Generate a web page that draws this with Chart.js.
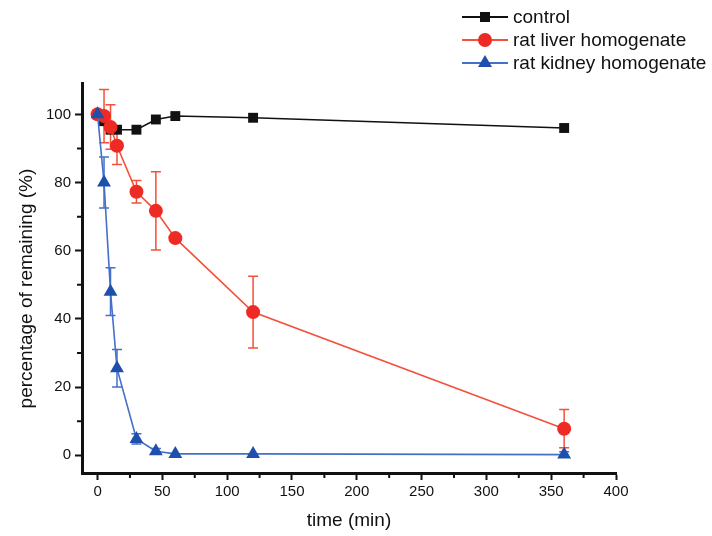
<!DOCTYPE html>
<html>
<head>
<meta charset="utf-8">
<script src="https://cdn.jsdelivr.net/npm/chart.js@4"></script>
<style>
  html, body { margin: 0; padding: 0; background: #fff; }
  #wrap { position: relative; width: 712px; height: 536px; }
  #legend { position: absolute; left: 462px; top: 5px; font-family: "Liberation Sans", Arial, sans-serif; font-size: 19px; color: #111; }
  .row { position: relative; height: 23px; line-height: 23px; padding-left: 51px; white-space: nowrap; }
  .row .ln { position: absolute; left: 0; top: 11px; width: 46px; height: 2px; }
  .row .mk { position: absolute; }
</style>
</head>
<body>
<div id="wrap">
  <canvas id="c" width="712" height="536"></canvas>
  <div id="legend">
    <div class="row"><span class="ln" style="background:#111"></span><span class="mk" style="left:18px;top:7px;width:10px;height:10px;background:#111"></span>control</div>
    <div class="row"><span class="ln" style="background:#f5503a"></span><span class="mk" style="left:16px;top:5px;width:14px;height:14px;border-radius:50%;background:#ee2a24"></span>rat liver homogenate</div>
    <div class="row"><span class="ln" style="background:#4470c8"></span><span class="mk" style="left:16px;top:4px;width:0;height:0;border-left:7px solid transparent;border-right:7px solid transparent;border-bottom:12px solid #1f4fad"></span>rat kidney homogenate</div>
  </div>
</div>
<script>
const times = [0, 5, 10, 15, 30, 45, 60, 120, 360];
const control = [100, 98, 95.5, 95.5, 95.5, 98.5, 99.5, 99, 96];
const controlErr = [0, 0, 0, 0, 0, 0, 0, 0, 0];
const liver = [100, 99.5, 96.3, 90.8, 77.3, 71.7, 63.7, 42, 7.8];
const liverErr = [0, 7.8, 6.5, 5.5, 3.3, 11.5, 0.8, 10.5, 5.6];
const kidney = [100, 80, 48, 25.5, 4.8, 1.2, 0.4, 0.4, 0.2];
const kidneyErr = [0, 7.5, 7, 5.5, 1.5, 0.8, 0, 0, 0.8];

const xTicks = [0, 50, 100, 150, 200, 250, 300, 350, 400];
const xMinor = [25, 75, 125, 175, 225, 275, 325, 375];
const yTicks = [0, 20, 40, 60, 80, 100];
const yMinor = [10, 30, 50, 70, 90];

const FONT = '"Liberation Sans", Arial, sans-serif';

function pts(ys) {
    return times.map((t, i) => ({ x: t, y: ys[i] }));
}

// error bars drawn behind the markers
const errorBars = {
    id: 'errorBars',
    beforeDatasetsDraw(chart) {
        const ctx = chart.ctx;
        const xs = chart.scales.x, ys = chart.scales.y;
        chart.data.datasets.forEach(ds => {
            if (!ds.err) return;
            ctx.save();
            ctx.strokeStyle = ds.borderColor;
            ctx.lineWidth = 1.5;
            ds.data.forEach((p, i) => {
                const e = ds.err[i];
                if (!e) return;
                const px = xs.getPixelForValue(p.x);
                const top = ys.getPixelForValue(p.y + e);
                const bot = ys.getPixelForValue(p.y - e);
                ctx.beginPath();
                ctx.moveTo(px, top); ctx.lineTo(px, bot);
                ctx.moveTo(px - 5, top); ctx.lineTo(px + 5, top);
                ctx.moveTo(px - 5, bot); ctx.lineTo(px + 5, bot);
                ctx.stroke();
            });
            ctx.restore();
        });
    }
};

const minorTicks = {
    id: 'minorTicks',
    afterDraw(chart) {
        const ctx = chart.ctx;
        const xs = chart.scales.x, ys = chart.scales.y;
        const area = chart.chartArea;
        ctx.save();
        ctx.strokeStyle = '#111';
        ctx.lineWidth = 2;
        ctx.beginPath();
        xMinor.forEach(v => {
            const px = xs.getPixelForValue(v);
            ctx.moveTo(px, area.bottom); ctx.lineTo(px, area.bottom + 5);
        });
        yMinor.forEach(v => {
            const py = ys.getPixelForValue(v);
            ctx.moveTo(area.left, py); ctx.lineTo(area.left - 5, py);
        });
        ctx.stroke();
        ctx.restore();
    }
};

new Chart(document.getElementById('c'), {
    type: 'line',
    data: {
        datasets: [
            {
                label: 'rat kidney homogenate', data: pts(kidney), err: kidneyErr, order: 0,
                borderColor: '#4470c8', backgroundColor: '#1f4fad', borderWidth: 1.6,
                pointStyle: 'triangle', pointRadius: 8, pointBorderWidth: 0
            },
            {
                label: 'rat liver homogenate', data: pts(liver), err: liverErr, order: 1,
                borderColor: '#f5503a', backgroundColor: '#ee2a24', borderWidth: 1.6,
                pointStyle: 'circle', pointRadius: 7, pointBorderWidth: 0
            },
            {
                label: 'control', data: pts(control), err: controlErr, order: 2,
                borderColor: '#111', backgroundColor: '#111', borderWidth: 1.5,
                pointStyle: 'rect', pointRadius: 7, pointBorderWidth: 0
            }
        ]
    },
    options: {
        responsive: false,
        animation: false,
        clip: false,
        layout: { padding: { top: 83, right: 96, left: 0, bottom: 0 } },
        plugins: { legend: { display: false }, tooltip: { enabled: false } },
        scales: {
            x: {
                type: 'linear', min: -12, max: 400,
                afterBuildTicks: s => { s.ticks = xTicks.map(v => ({ value: v })); },
                afterFit: s => { s.height = 63; },
                border: { display: true, color: '#111', width: 3 },
                grid: { drawOnChartArea: false, drawTicks: true, tickLength: 7, tickWidth: 2, tickColor: '#111' },
                ticks: { color: '#111', font: { family: FONT, size: 15 }, padding: 3, maxRotation: 0 },
                title: { display: true, text: 'time (min)', color: '#111', font: { family: FONT, size: 19 }, padding: { top: 0, bottom: 4 } }
            },
            y: {
                type: 'linear', min: -5.2, max: 109.2,
                afterBuildTicks: s => { s.ticks = yTicks.map(v => ({ value: v })); },
                afterFit: s => { s.width = 82; },
                border: { display: true, color: '#111', width: 3 },
                grid: { drawOnChartArea: false, drawTicks: true, tickLength: 7, tickWidth: 2, tickColor: '#111' },
                ticks: { color: '#111', font: { family: FONT, size: 15 }, padding: 4 },
                // trailing spaces push the centred label a little lower, as in the original
                title: { display: true, text: 'percentage of remaining (%)    ', color: '#111', font: { family: FONT, size: 19 }, padding: { top: 15, bottom: 15 } }
            }
        }
    },
    plugins: [errorBars, minorTicks]
});
</script>
</body>
</html>
